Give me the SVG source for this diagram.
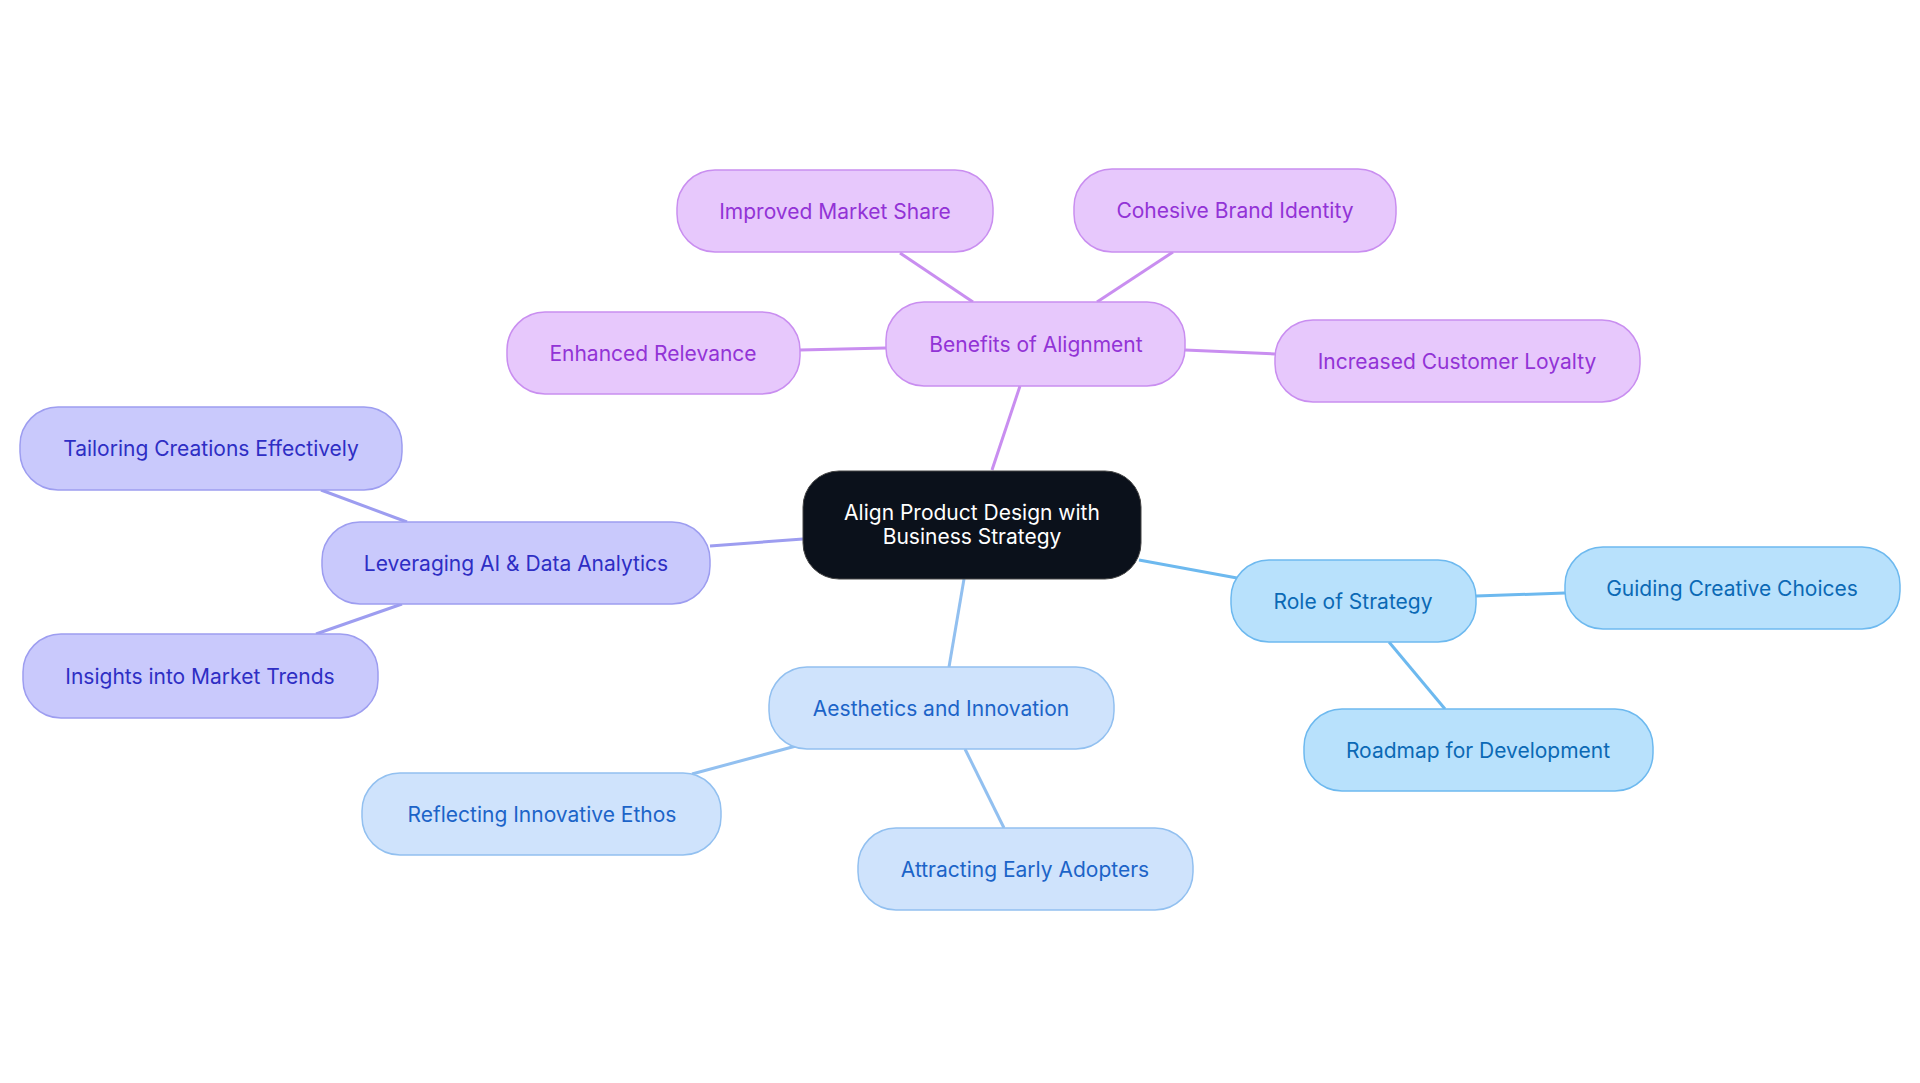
<svg xmlns="http://www.w3.org/2000/svg" width="1920" height="1083" viewBox="0 0 1920 1083">
<style>
text{font-family:Inter,"Noto Sans",sans-serif;font-size:21px;text-anchor:middle;dominant-baseline:central}
.p rect{fill:#e7c8fc;stroke:#c98ef0;stroke-width:1.5}.p text{fill:#9233d6}
.v rect{fill:#c9c9fc;stroke:#9d9df0;stroke-width:1.5}.v text{fill:#2e2ec4}
.a rect{fill:#cfe3fc;stroke:#92c0f0;stroke-width:1.5}.a text{fill:#1c64c8}
.s rect{fill:#b8e1fc;stroke:#6db9ef;stroke-width:1.5}.s text{fill:#0b69b5}
#edges line{stroke-width:3;fill:none}
</style>
<rect width="1920" height="1083" fill="#fff"/>
<g id="edges">
<line x1="992" y1="470" x2="1020" y2="386" stroke="#c98ef0"/>
<line x1="900" y1="253" x2="973" y2="302" stroke="#c98ef0"/>
<line x1="1173" y1="252" x2="1097" y2="302" stroke="#c98ef0"/>
<line x1="800" y1="350" x2="886" y2="348" stroke="#c98ef0"/>
<line x1="1185" y1="350" x2="1275" y2="354" stroke="#c98ef0"/>
<line x1="803" y1="539" x2="710" y2="546" stroke="#9d9df0"/>
<line x1="321" y1="490" x2="407" y2="522" stroke="#9d9df0"/>
<line x1="316" y1="634" x2="402" y2="604" stroke="#9d9df0"/>
<line x1="1139" y1="560" x2="1237" y2="578" stroke="#6db9ef"/>
<line x1="1476" y1="596" x2="1565" y2="593" stroke="#6db9ef"/>
<line x1="1389" y1="642" x2="1445" y2="709" stroke="#6db9ef"/>
<line x1="964" y1="579" x2="949" y2="667" stroke="#92c0f0"/>
<line x1="796" y1="746" x2="692" y2="774" stroke="#92c0f0"/>
<line x1="965" y1="749" x2="1004" y2="828" stroke="#92c0f0"/>
</g>
<g id="center"><rect x="803" y="471" width="338" height="108" rx="36" fill="#0b111b" stroke="#444" stroke-width="1"/>
<text x="972" y="512" fill="#fff">Align Product Design with</text><text x="972" y="536" fill="#fff">Business Strategy</text></g>
<g id="benefits" class="p"><rect x="886" y="302" width="299" height="84" rx="38"/><text x="1036" y="344">Benefits of Alignment</text></g>
<g id="improved" class="p"><rect x="677" y="170" width="316" height="82" rx="38"/><text x="835" y="211">Improved Market Share</text></g>
<g id="cohesive" class="p"><rect x="1074" y="169" width="322" height="83" rx="38"/><text x="1235" y="210">Cohesive Brand Identity</text></g>
<g id="enhanced" class="p"><rect x="507" y="312" width="293" height="82" rx="38"/><text x="653" y="353">Enhanced Relevance</text></g>
<g id="loyalty" class="p"><rect x="1275" y="320" width="365" height="82" rx="38"/><text x="1457" y="361">Increased Customer Loyalty</text></g>
<g id="leveraging" class="v"><rect x="322" y="522" width="388" height="82" rx="38"/><text x="516" y="563">Leveraging AI &amp; Data Analytics</text></g>
<g id="tailoring" class="v"><rect x="20" y="407" width="382" height="83" rx="38"/><text x="211" y="448">Tailoring Creations Effectively</text></g>
<g id="insights" class="v"><rect x="23" y="634" width="355" height="84" rx="38"/><text x="200" y="676">Insights into Market Trends</text></g>
<g id="role" class="s"><rect x="1231" y="560" width="245" height="82" rx="38"/><text x="1353" y="601">Role of Strategy</text></g>
<g id="guiding" class="s"><rect x="1565" y="547" width="335" height="82" rx="38"/><text x="1732" y="588">Guiding Creative Choices</text></g>
<g id="roadmap" class="s"><rect x="1304" y="709" width="349" height="82" rx="38"/><text x="1478" y="750">Roadmap for Development</text></g>
<g id="aesthetics" class="a"><rect x="769" y="667" width="345" height="82" rx="38"/><text x="941" y="708">Aesthetics and Innovation</text></g>
<g id="reflecting" class="a"><rect x="362" y="773" width="359" height="82" rx="38"/><text x="542" y="814">Reflecting Innovative Ethos</text></g>
<g id="attracting" class="a"><rect x="858" y="828" width="335" height="82" rx="38"/><text x="1025" y="869">Attracting Early Adopters</text></g>
</svg>
